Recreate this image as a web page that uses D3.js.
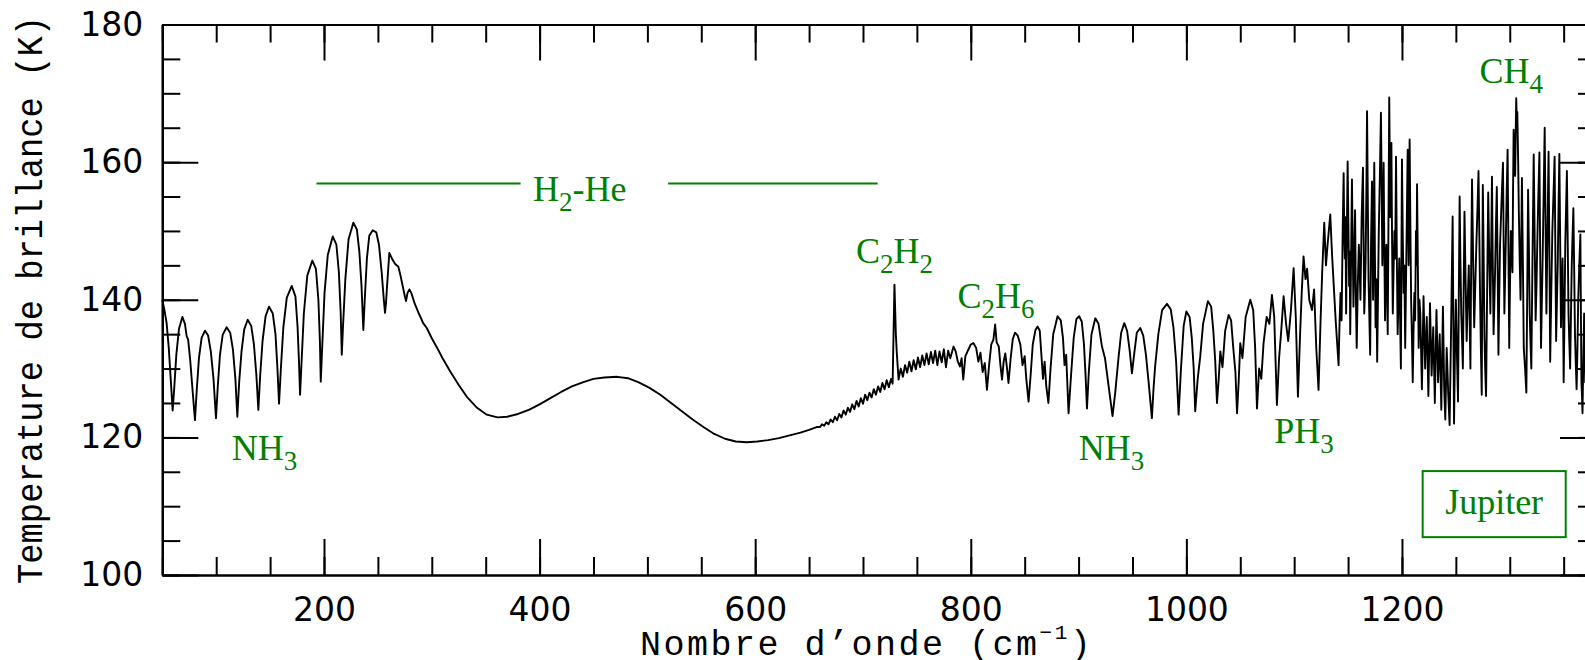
<!DOCTYPE html>
<html>
<head>
<meta charset="utf-8">
<script src="https://cdn.jsdelivr.net/npm/d3@7"></script>
<style>
  body { margin: 0; background: #fff; }
  svg { display: block; }
  .tick text { font-family: "DejaVu Sans", sans-serif; font-size: 33px; fill: #000; }
  .title { font-family: "Liberation Mono", monospace; fill: #000; }
  .mol { font-family: "Liberation Serif", serif; font-size: 36px; fill: #008000; }
</style>
</head>
<body>
<script>
// Brightness temperature spectrum of Jupiter: [wavenumber cm-1, T (K)]
var rotationBand = [
  [50,140.0],[52,138.5],[54,136.6],[56,133.0],[58,128.0],[59.6,123.9],[61,127.0],[63,132.0],[65.5,135.8],[68.6,137.5],
  [71,136.5],[72.6,134.7],[74,134.2],[76,131.0],[78,127.0],[80.3,122.5],[82,127.0],[84,131.5],[86.5,134.5],[89.6,135.5],
  [92.5,134.8],[95,132.5],[97.5,128.5],[99.8,122.8],[101.5,127.5],[103.5,132.0],[106,134.9],[109.7,136.0],[113,135.2],
  [115.5,132.8],[117.8,128.5],[119.6,123.0],[121.3,128.0],[123.5,132.5],[126,135.7],[129.2,137.1],[132.5,136.2],[135,133.5],
  [137.3,129.0],[139.1,124.0],[140.8,129.0],[143,134.0],[145.8,137.6],[149,139.0],[152.5,138.0],[155,135.0],[156.8,130.0],
  [158.3,124.9],[160,130.0],[162.3,136.0],[165.5,140.3],[170.1,142.0],[173.5,140.5],[175.5,136.0],[176.8,131.0],[177.8,126.2],
  [179.2,131.0],[181.3,138.0],[184.5,143.5],[189.2,145.7],[192.5,144.5],[194.8,140.0],[196.2,134.0],[197,128.1],[198.3,133.0],
  [200.5,141.0],[203.5,146.5],[208.1,149.2],[211.5,148.0],[213.8,144.0],[215.5,138.0],[216.5,132.0],[217.6,136.0],[219.8,143.0],
  [222.8,148.8],[227.2,151.2],[230.5,150.2],[232.8,147.0],[234.8,142.0],[236.5,135.6],[237.8,140.0],[239.8,146.0],[242,149.3],
  [245.2,150.1],[248.5,149.8],[251,148.0],[253.5,144.0],[255.5,140.0],[256.6,138.1],[257.5,139.5],[258.5,142.0],[260.6,146.8],
  [263,146.0],[266,145.2],[269,144.8],[271,143.5],[273,142.0],[275,140.5],[276.1,139.8],[277.5,141.0],[279.2,141.5],[281,141.0],
  [284,139.5],[288,138.0],[292,136.6],[295.3,135.9]
];
var continuum = [
  [300,134.4],[305,133.0],[310,131.5],[317,129.6],[325,127.6],[333,125.8],[342,124.3],[351,123.3],[361,122.9],[370,123.0],
  [380,123.4],[390,124.0],[400,124.8],[410,125.7],[420,126.6],[430,127.4],[440,128.0],[450,128.5],[460,128.7],[472,128.8],
  [482,128.6],[492,128.0],[502,127.2],[512,126.2],[522,125.0],[532,123.8],[542,122.6],[552,121.5],[562,120.5],[572,119.8],
  [582,119.4],[592,119.3],[602,119.4],[612,119.6],[622,119.9],[632,120.3],[642,120.7],[650,121.1],[657,121.5]
];
var hydrocarbons = [
  [660,121.5],[662,121.9],[664,121.7],[666,122.2],[668,121.9],[670,122.6],[672,122.2],[674,123.0],[676,122.5],[678,123.4],
  [680,122.9],[682,123.9],[684,123.3],[686,124.3],[688,123.7],[690,124.8],[692,124.1],[694,125.3],[696,124.5],[698,125.7],
  [700,124.9],[702,126.2],[704,125.4],[706,126.5],[708,125.8],[710,127.0],[712,126.2],[714,127.4],[716,126.6],[718,127.9],
  [720,127.0],[722,128.3],[724,127.3],[726,128.5],[727.5,127.8],[729.2,142.2],[730.5,135.0],[731.4,132.2],[733,128.4],
  [735,130.0],[737,128.8],[739,130.5],[741,129.4],[743,131.0],[745,129.6],[747,131.2],[749,129.9],[751,131.6],[753,130.2],
  [755,131.9],[757,130.5],[759,132.2],[761,130.6],[763,132.4],[765,130.8],[767,132.6],[769,130.5],[771,132.5],[773,130.9],
  [775,132.8],[777,130.2],[779,132.6],[781,131.5],[784,133.2],[786,132.5],[788,131.0],[790,130.3],[791.5,131.5],[793,128.4],
  [795,131.8],[797,132.5],[800,133.5],[802.5,133.7],[805,133.0],[807,131.0],[809,132.3],[811,129.5],[813,130.8],[815,126.9],
  [817,130.5],[819,133.5],[821,134.2],[822.6,136.4],[824,133.8],[826,133.2],[827.5,130.5],[829,128.4],[830.5,131.0]
];
var ammoniaBand = [
  [832,132.2],[833.5,130.2],[835,127.9],[837,131.5],[839,134.3],[841,135.2],[843.5,134.8],[846,133.5],[848,130.5],[850,131.8],
  [851.5,128.5],[853.6,125.2],[855.5,129.0],[857.5,133.5],[860,135.6],[862,136.1],[864,135.5],[865.5,132.0],[867,128.5],
  [868.5,131.0],[870,127.5],[872,125.0],[874,130.0],[876.5,135.0],[880.5,137.6],[883.5,137.0],[885.5,134.5],[887,130.5],
  [888.5,132.0],[890.7,123.5],[893,129.0],[895.5,134.5],[898,137.2],[900.6,137.6],[903,136.8],[905,133.5],[906.5,129.0],
  [907.8,124.2],[909.5,129.5],[912,135.0],[915.5,137.3],[918.5,136.5],[921.7,133.2],[924.5,131.5],[927,128.5],[929.5,125.5],
  [931.5,123.1],[934,126.5],[937,131.5],[939.5,135.2],[942.4,136.6],[945,135.5],[947.5,132.5],[949.5,129.3],[951.5,132.0],
  [954,135.2],[957.2,135.9],[960,134.8],[962.5,132.0],[965,128.0],[968,122.8],[969.5,127.0],[971,130.3],[974,135.0],
  [977.5,138.5],[982,139.4],[985.5,138.6],[988,136.0],[990.5,131.0],[992.8,123.3],[995,130.0],[997.5,136.2],[1000,138.3],
  [1003,137.5],[1005,134.5],[1006.8,130.0],[1008.2,123.8],[1010.5,128.5],[1012.9,131.8],[1015.5,136.5],[1020,139.8],
  [1023,139.0],[1025,135.5],[1026.8,131.0],[1028.4,125.0],[1030,128.5],[1031.5,132.5],[1033.5,130.2],[1036,135.5],
  [1039.2,137.8],[1041.5,137.0],[1043.5,133.0],[1045.5,129.5],[1047,123.5],[1048.5,128.0],[1050,133.7],[1052,131.5],
  [1055,137.5],[1059.3,140.0],[1062,138.5],[1063.8,133.0],[1065.5,124.2],[1067.5,130.0],[1069.5,128.5],[1071.6,133.7],
  [1074.5,137.5],[1077,136.5],[1079.4,140.7],[1081.5,137.5],[1084,124.7],[1086,131.5],[1088,135.5],[1090.2,140.5],
  [1092.5,136.5],[1094.5,134.0],[1097,138.5],[1099.5,144.6],[1101.5,137.5],[1103.5,125.9],[1105.5,135.0],[1107,141.0],
  [1108.7,146.3],[1110.5,143.0],[1112,144.5],[1114,140.0],[1116.5,138.5],[1118.5,141.5],[1120.5,133.0],[1122.6,126.9]
];
var methaneBand = [
  [1124.5,137.0],[1126,144.0],[1127.9,151.2],[1129.5,145.0],[1131,148.0],[1133.5,152.4],[1135,147.0],[1136.6,142.4],
  [1138.5,137.0],[1141.2,130.5],[1142,136],[1143,141],[1144,137],[1145,150],[1145.9,158.4],[1146.5,149],[1147,146],
  [1147.6,152],[1148.2,138],[1148.9,150],[1149.6,160.1],[1150.3,151],[1151,142],[1151.5,147],[1152,135],[1152.8,146],
  [1153.6,157.5],[1154.3,148],[1155,139],[1155.8,147],[1156.5,153],[1157.2,141],[1158,133],[1159,142],[1160,148],
  [1160.8,144],[1161.5,140],[1162.6,152],[1163.8,159.2],[1164.4,149],[1165,138],[1165.6,141],[1166.3,146],[1167,156],
  [1167.6,167.4],[1168.3,155],[1169,143],[1169.8,137],[1170.5,132],[1171.3,148],[1172.2,157.2],[1172.7,149],[1173.2,140],
  [1173.8,151],[1174.3,159.9],[1174.9,147],[1175.5,136],[1176.2,143],[1177,131],[1177.8,141],[1178.5,150],[1179.5,158],
  [1180.5,167.2],[1181.2,156],[1181.8,145],[1182.4,152],[1183,159.9],[1183.6,148],[1184.3,137],[1184.9,144],[1185.5,148],
  [1186.2,141],[1186.8,135],[1187.5,152],[1188.2,169.4],[1188.7,160],[1189.2,152],[1189.7,158],[1190.2,162.8],[1190.8,149],
  [1191.5,138],[1192.2,144],[1193,150],[1193.7,146],[1194.5,160.8],[1195.2,147],[1196,135],[1196.7,140],[1197.5,146],
  [1198.2,138],[1199,130],[1199.5,146],[1200,160.4],[1200.7,150],[1201.5,141],[1202.2,145],[1203,133],[1204.2,148],
  [1205.3,161.8],[1205.8,152],[1206.2,145],[1206.6,155],[1207.1,163.3],[1207.8,151],[1208.5,140],[1209.2,135],[1210,128],
  [1210.8,136],[1211.5,141],[1212.2,137],[1213,150],[1213.5,145],[1214,156.8],[1214.8,144],[1215.5,133],[1216.2,140],
  [1217,138.0],[1218.5,127.0],[1220,140.5],[1221.5,130.0],[1223,137.5],[1224.5,126.0],[1226,139.5],[1227.5,129.0],
  [1229,136.0],[1230.5,125.0],[1232,138.5],[1233.5,128.0],[1235,135.0],[1236.5,124.0],[1238,139.0],[1239.2,127.0],
  [1240.2,122.6],[1241.5,133.0],[1243,126.0],[1244.2,121.8],[1245.5,135.0],[1247,152.1],[1248.3,122.0],[1249.2,133],
  [1250,140.0],[1251,132],[1252,125.2],[1252.8,142],[1253.5,155.0],[1254.2,146],[1255,138.0],[1255.8,134],[1256.5,130.0],
  [1257.2,141],[1258,152.8],[1259,143],[1260,134.0],[1261,140],[1262,145.0],[1262.8,137],[1263.5,130.0],[1264.2,145],
  [1265,157.5],[1266,146],[1267,136.0],[1268,142],[1269,148.0],[1270,153],[1271,158.7],[1271.8,149],[1272.5,140.0],
  [1273.2,133],[1274,126.2],[1274.5,142],[1275,156.7],[1275.8,146],[1276.5,135.0],[1277.2,130],[1278,126.0],[1279,141],
  [1280,155.6],[1281,146],[1282,138.0],[1282.8,148],[1283.5,157.9],[1284.2,146],[1285,135.0],[1285.8,140],[1286.5,145.0],
  [1287.2,151],[1288,156.4],[1288.8,144],[1289.5,132.0],[1290.2,140],[1291,148.0],[1292.3,154],[1293.7,159.9],[1294.3,149],
  [1295,138.0],[1295.8,144],[1296.5,150.0],[1297.2,156],[1298,161.8],[1298.8,147],[1299.5,133.0],[1300.2,142],[1301,150.0],
  [1301.8,147],[1302.5,144.0],[1303,155],[1303.6,164.7],[1304.3,161],[1305,158.0],[1305.5,164],[1306,169.3],[1306.5,166],
  [1307,167.3],[1307.8,160],[1308.5,152.0],[1309.2,146],[1310,140.0],[1310.7,149],[1311.3,157.7],[1312.2,145],[1313,133.0],
  [1314.2,130],[1315.4,126.5],[1316.2,141],[1317,156.0],[1317.8,147],[1318.5,138.0],[1319.2,134],[1320,130.0],[1321.1,146],
  [1322.2,161.1],[1323.1,149],[1324,137.0],[1324.8,142],[1325.5,148.0],[1326.5,155],[1327.5,161.4],[1328.2,147],[1329,133.0],
  [1329.8,140],[1330.5,146.0],[1331.5,156],[1332.4,165.0],[1333.2,151],[1334,138.0],[1335,150],[1336,161.5],[1336.8,146],
  [1337.5,131.0],[1338.5,141],[1339.5,150.0],[1340.5,155],[1341.6,160.8],[1342.3,147],[1343,134.0],[1343.8,140],
  [1344.5,145.0],[1345.2,153],[1346,161.2],[1346.8,148],[1347.5,136.0],[1348.2,141],[1349,146.0],[1349.5,137],[1350,128.0],
  [1350.8,138],[1351.5,148.0],[1352.2,153],[1353,158.7],[1353.8,148],[1354.5,138.0],[1355.2,134],[1356,130.0],[1356.8,138],
  [1357.5,145.0],[1358.2,149],[1359,153.3],[1359.8,144],[1360.5,135.0],[1361.2,131],[1362,127.0],[1362.8,133],[1363.5,140.0],
  [1364.5,145],[1365.5,149.5],[1366,138],[1366.5,128.0],[1367,126],[1367.5,123.5],[1368.2,131],[1369,138.0],[1369.5,133],
  [1370,128.0],[1371,135],[1372,142.0],[1373,136],[1374,130.0],[1375,135],[1376,140.0],[1377,137],[1378,135.0],[1379,139],
  [1380,137.0]
];

var xMajorTicks = [200, 400, 600, 800, 1000, 1200];
var xMinorTicks = d3.range(50, 1400, 50);
var yMajorTicks = [100, 120, 140, 160, 180];
var yMinorTicks = d3.range(100, 181, 5);

// molecule labels: text parts [main, subscript, main, ...], anchor in data units
var molecules = [
  { parts: ["NH", "3"], wn: 114.4, t: 116.7 },
  { parts: ["H", "2", "-He"], wn: 394, t: 154.3 },
  { parts: ["C", "2", "H", "2"], wn: 693.6, t: 145.3 },
  { parts: ["C", "2", "H", "6"], wn: 787.7, t: 138.8 },
  { parts: ["NH", "3"], wn: 900.2, t: 116.7 },
  { parts: ["PH", "3"], wn: 1081.5, t: 119.2 },
  { parts: ["CH", "4"], wn: 1272, t: 171.5 }
];
var h2heBars = [[193, 382.4], [519.2, 713.6]];
var h2heLevel = 156.9;

var width = 1585, height = 660;
var x = d3.scaleLinear().domain([50, 1380]).range([162.3, 1596]);
var y = d3.scaleLinear().domain([100, 180]).range([575, 24.5]);

var svg = d3.select("body").append("svg")
  .attr("width", width)
  .attr("height", height);

drawAxes();
drawSpectrum();
drawLabels();

function styleAxis(g) {
  g.selectAll("path.domain").attr("stroke", "#000").attr("stroke-width", 2.2);
  g.selectAll(".tick line").attr("stroke", "#000").attr("stroke-width", 2);
}

function drawAxes() {
  var x0 = x.range()[0], x1 = x.range()[1], y0 = y.range()[0], y1 = y.range()[1];

  // minor ticks on all four sides, pointing into the frame
  svg.append("g").attr("transform", "translate(0," + y0 + ")")
    .call(d3.axisBottom(x).tickValues(xMinorTicks).tickSizeInner(-18).tickSizeOuter(0).tickFormat(""))
    .call(styleAxis);
  svg.append("g").attr("transform", "translate(0," + y1 + ")")
    .call(d3.axisTop(x).tickValues(xMinorTicks).tickSizeInner(-18).tickSizeOuter(0).tickFormat(""))
    .call(styleAxis);
  svg.append("g").attr("transform", "translate(" + x0 + ",0)")
    .call(d3.axisLeft(y).tickValues(yMinorTicks).tickSizeInner(-18).tickSizeOuter(0).tickFormat(""))
    .call(styleAxis);
  svg.append("g").attr("transform", "translate(" + x1 + ",0)")
    .call(d3.axisRight(y).tickValues(yMinorTicks).tickSizeInner(-18).tickSizeOuter(0).tickFormat(""))
    .call(styleAxis);

  // major ticks with labels
  svg.append("g").attr("transform", "translate(0," + y0 + ")")
    .call(d3.axisBottom(x).tickValues(xMajorTicks).tickSizeInner(-36).tickSizeOuter(0).tickPadding(23).tickFormat(d3.format("d")))
    .call(styleAxis);
  svg.append("g").attr("transform", "translate(0," + y1 + ")")
    .call(d3.axisTop(x).tickValues(xMajorTicks).tickSizeInner(-36).tickSizeOuter(0).tickFormat(""))
    .call(styleAxis);
  svg.append("g").attr("transform", "translate(" + x0 + ",0)")
    .call(d3.axisLeft(y).tickValues(yMajorTicks).tickSizeInner(-36).tickSizeOuter(0).tickPadding(19).tickFormat(d3.format("d")))
    .call(styleAxis);
  svg.append("g").attr("transform", "translate(" + x1 + ",0)")
    .call(d3.axisRight(y).tickValues(yMajorTicks).tickSizeInner(-36).tickSizeOuter(0).tickFormat(""))
    .call(styleAxis);
  svg.selectAll("g").attr("font-family", null).attr("font-size", null);

  // axis titles
  var xt = svg.append("text")
    .attr("class", "title")
    .attr("x", 640).attr("y", 655)
    .attr("font-size", 35)
    .attr("letter-spacing", 2.5);
  xt.append("tspan").text("Nombre d\u2019onde (cm");
  xt.append("tspan").attr("font-size", 21).attr("dy", -16).text("\u22121");
  xt.append("tspan").attr("dy", 16).text(")");

  svg.append("text")
    .attr("class", "title")
    .attr("transform", "translate(42,584) rotate(-90)")
    .attr("font-size", 37)
    .attr("textLength", 568)
    .attr("lengthAdjust", "spacingAndGlyphs")
    .text("Temperature de brillance (K)");
}

function drawSpectrum() {
  var spectrum = rotationBand.concat(continuum, hydrocarbons, ammoniaBand, methaneBand);
  var line = d3.line()
    .x(function (d) { return x(d[0]); })
    .y(function (d) { return y(d[1]); });

  svg.append("path")
    .datum(spectrum)
    .attr("fill", "none")
    .attr("stroke", "#000")
    .attr("stroke-width", 1.9)
    .attr("stroke-linejoin", "round")
    .attr("d", line);
}

function drawLabels() {
  molecules.forEach(function (m) {
    var t = svg.append("text")
      .attr("class", "mol")
      .attr("x", x(m.wn))
      .attr("y", y(m.t));
    m.parts.forEach(function (p, i) {
      var sub = i % 2 === 1;
      var ts = t.append("tspan").text(p);
      if (sub) ts.attr("font-size", 27).attr("dy", 10);
      else if (i > 0) ts.attr("dy", -10);
    });
  });

  svg.selectAll("line.h2he")
    .data(h2heBars)
    .enter().append("line")
    .attr("class", "h2he")
    .attr("x1", function (d) { return x(d[0]); })
    .attr("x2", function (d) { return x(d[1]); })
    .attr("y1", y(h2heLevel))
    .attr("y2", y(h2heLevel))
    .attr("stroke", "#008000")
    .attr("stroke-width", 2);

  // Jupiter box
  svg.append("rect")
    .attr("x", x(1219.2)).attr("y", y(115.1))
    .attr("width", x(1351.9) - x(1219.2))
    .attr("height", y(105.5) - y(115.1))
    .attr("fill", "none")
    .attr("stroke", "#008000")
    .attr("stroke-width", 2);
  svg.append("text")
    .attr("class", "mol")
    .attr("x", x(1285.5)).attr("y", y(108.9))
    .attr("text-anchor", "middle")
    .text("Jupiter");
}
</script>
</body>
</html>
